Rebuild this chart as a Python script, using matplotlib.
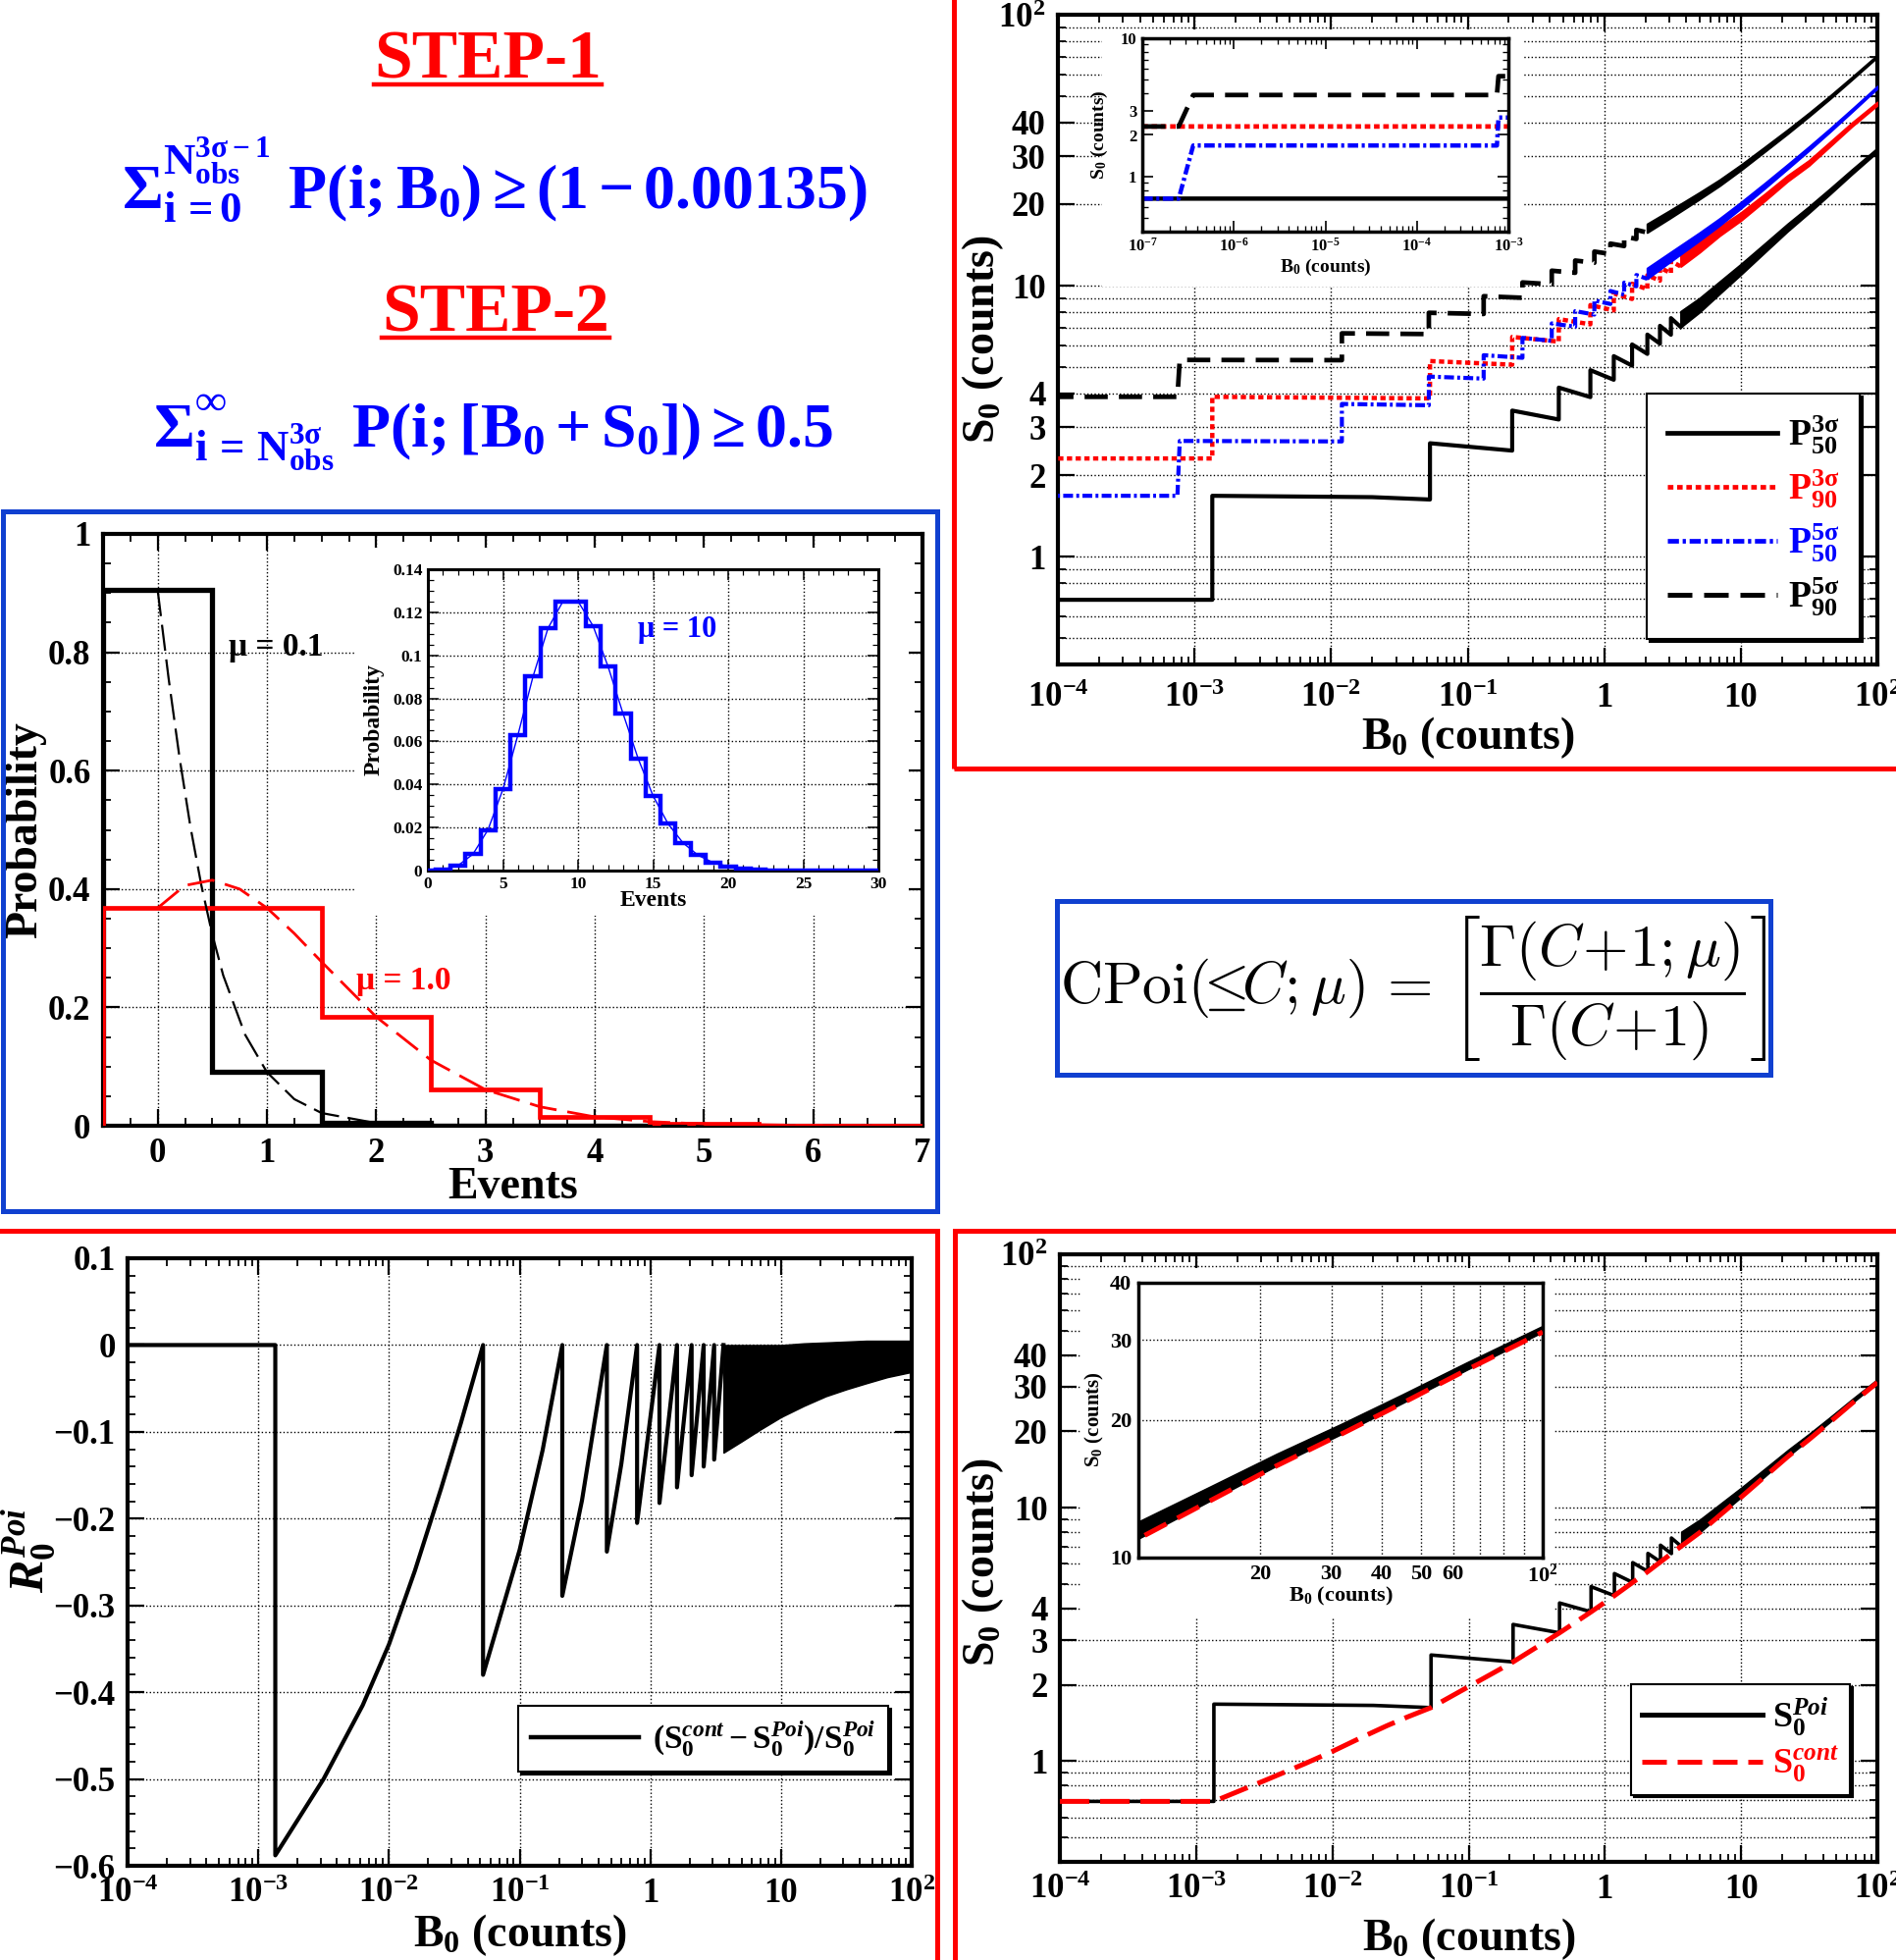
import matplotlib
matplotlib.use('Agg')
import matplotlib.pyplot as plt
from matplotlib.patches import Rectangle
from matplotlib.lines import Line2D
from matplotlib.ticker import FixedLocator, FixedFormatter, NullFormatter, MultipleLocator

plt.rcParams.update({
    'font.family': ['Liberation Serif', 'DejaVu Serif'],
    'font.weight': 'bold',
    'axes.labelweight': 'bold',
    'mathtext.fontset': 'custom',
    'mathtext.rm': 'Liberation Serif:bold',
    'mathtext.it': 'Liberation Serif:italic:bold',
    'mathtext.bf': 'Liberation Serif:bold',
    'mathtext.default': 'rm',
})

RED = '#ff0000'
BLUE = '#0000ff'
FRAME_BLUE = '#1040d0'

# ======================= DATA =======================
# ---- top-left text ----
step1_text = 'STEP-1'
step2_text = 'STEP-2'
formula1 = r'$\Sigma_{i\,=0}^{N_{obs}^{3\sigma-1}}\ P(i;B_0)\geq(1-0.00135)$'
formula2 = r'$\Sigma_{i\,=\,N_{obs}^{3\sigma}}^{\infty}\ P(i;[B_0+S_0])\geq0.5$'
cpoi_formula = (r'$\mathrm{CPoi}(\!\!\leq\!\!\mathit{C};\mathit{\mu})\,=\,'
                r'\left[\dfrac{\Gamma(\mathit{C}\!+\!1;\mathit{\mu})}{\Gamma(\mathit{C}\!+\!1)}\right]$')

# ---- middle-left: Poisson probabilities ----
events_mu01 = [0, 1, 2, 3, 4]
prob_mu01 = [0.905, 0.0905, 0.0045, 0.00015, 0.0]
events_mu1 = [0, 1, 2, 3, 4, 5, 6, 7]
prob_mu1 = [0.368, 0.368, 0.184, 0.061, 0.015, 0.003, 0.0005, 0.0001]
cont_x_mu01 = [0, 0.1, 0.2, 0.3, 0.4, 0.5, 0.6, 0.8, 1.0, 1.25, 1.5, 2.0, 2.5, 3.0, 4.0, 5.0]
cont_y_mu01 = [0.905, 0.756, 0.622, 0.505, 0.406, 0.323, 0.254, 0.154, 0.0905, 0.045,
               0.0215, 0.0045, 0.0008, 0.00015, 0.0, 0.0]
cont_x_mu1 = [0, 0.25, 0.5, 0.75, 1.0, 1.25, 1.5, 2.0, 2.5, 3.0, 3.5, 4.0, 4.5, 5.0, 6.0, 7.0]
cont_y_mu1 = [0.368, 0.406, 0.415, 0.400, 0.368, 0.325, 0.277, 0.184, 0.111, 0.061,
              0.032, 0.015, 0.007, 0.003, 0.0005, 0.0001]
events_mu10 = list(range(31))
prob_mu10 = [0.00005, 0.00045, 0.0023, 0.0076, 0.0189, 0.0378, 0.0631, 0.0901, 0.1126,
             0.1251, 0.1251, 0.1137, 0.0948, 0.0729, 0.0521, 0.0347, 0.0217, 0.0128,
             0.0071, 0.0037, 0.0019, 0.0009, 0.0004, 0.0002, 0.0001, 0.0, 0.0, 0.0,
             0.0, 0.0, 0.0]
prob_ticks = [0, 0.2, 0.4, 0.6, 0.8, 1.0]
prob_labels = ['0', '0.2', '0.4', '0.6', '0.8', '1']
prob10_ticks = [0, 0.02, 0.04, 0.06, 0.08, 0.10, 0.12, 0.14]
prob10_labels = ['0', '0.02', '0.04', '0.06', '0.08', '0.1', '0.12', '0.14']
events_ticks = [0, 1, 2, 3, 4, 5, 6, 7]
events10_ticks = [0, 5, 10, 15, 20, 25, 30]

# ---- S0 vs B0 curves (vertices) ----
# P50^3sigma (black solid) = S0^Poi
p50_3s_B = [1e-7, 1.35e-3, 1.35e-3, 0.02, 0.053, 0.053, 0.212, 0.212, 0.465, 0.465, 0.792,
            0.792, 1.175, 1.175, 1.60, 1.60, 2.07, 2.07, 2.56, 2.56, 3.08, 3.08, 3.63]
p50_3s_S = [0.693, 0.693, 1.677, 1.658, 1.625, 2.621, 2.462, 3.460, 3.207, 4.206, 3.879,
            4.878, 4.495, 5.495, 5.070, 6.070, 5.600, 6.600, 6.110, 7.110, 6.590, 7.590, 7.040]
p50_3s_band_B = [3.63, 5, 7, 10, 15, 22, 31.6, 45, 65, 100]
p50_3s_band_lo = [7.04, 8.0, 9.35, 11.0, 13.3, 15.9, 18.6, 21.8, 25.8, 31.2]
p50_3s_band_hi = [8.04, 9.0, 10.35, 12.0, 14.3, 16.9, 19.6, 22.8, 26.8, 32.2]

# P90^3sigma (red dotted)
p90_3s_B = [1e-7, 1.35e-3, 1.35e-3, 0.053, 0.053, 0.212, 0.212, 0.465, 0.465, 0.792, 0.792,
            1.175, 1.175, 1.60, 1.60, 2.07, 2.07, 2.56, 2.56, 3.08, 3.08, 3.63]
p90_3s_S = [2.303, 2.303, 3.889, 3.837, 5.269, 5.110, 6.469, 6.216, 7.529, 7.202, 8.483,
            8.100, 9.357, 8.932, 10.171, 9.701, 10.925, 10.435, 11.646, 11.126, 12.327, 11.777]
p90_3s_band_B = [3.63, 5, 7, 10, 15, 22, 31.6, 45, 65, 100]
p90_3s_band_lo = [11.78, 13.3, 15.3, 17.4, 20.6, 24.3, 27.8, 32.7, 38.7, 46.4]
p90_3s_band_hi = [12.97, 14.5, 16.5, 18.6, 21.8, 25.5, 29.0, 33.9, 39.9, 47.6]

# P50^5sigma (blue dash-dot)
p50_5s_B = [1e-7, 2.5e-7, 3.6e-7, 7.5e-4, 7.8e-4, 0.012, 0.012, 0.052, 0.052, 0.131, 0.131,
            0.252, 0.252, 0.413, 0.413, 0.613, 0.613, 0.847, 0.847, 1.11, 1.11, 1.40, 1.40,
            1.72, 1.72, 2.06]
p50_5s_S = [0.693, 0.693, 1.678, 1.677, 2.673, 2.662, 3.660, 3.620, 4.619, 4.540, 5.539,
            5.418, 6.418, 6.257, 7.256, 7.056, 8.056, 7.822, 8.822, 8.559, 9.558, 9.268,
            10.268, 9.948, 10.949, 10.609]
p50_5s_band_B = [2.06, 3, 5, 7, 10, 15, 22, 31.6, 45, 65, 100]
p50_5s_band_lo = [10.61, 12.2, 14.7, 16.7, 19.3, 22.9, 27.0, 31.6, 37.0, 43.8, 53.5]
p50_5s_band_hi = [11.61, 13.2, 15.7, 17.7, 20.3, 23.9, 28.0, 32.6, 38.0, 44.8, 54.5]

# P90^5sigma (black dashed)
p90_5s_B = [1e-7, 2.5e-7, 3.6e-7, 7.5e-4, 7.8e-4, 0.012, 0.012, 0.052, 0.052, 0.131, 0.131,
            0.252, 0.252, 0.413, 0.413, 0.613, 0.613, 0.847, 0.847, 1.11, 1.11, 1.40, 1.40,
            1.72, 1.72, 2.06]
p90_5s_S = [2.303, 2.303, 3.889, 3.889, 5.321, 5.310, 6.669, 6.629, 7.942, 7.863, 9.144,
            9.023, 10.280, 10.119, 11.358, 11.158, 12.382, 12.148, 13.359, 13.096, 14.297,
            14.007, 15.198, 14.878, 16.060, 15.720]
p90_5s_band_B = [2.06, 3, 5, 7, 10, 15, 22, 31.6, 45, 65, 100]
p90_5s_band_lo = [15.72, 17.7, 20.9, 23.4, 26.7, 31.3, 36.4, 42.2, 49.0, 57.6, 69.8]
p90_5s_band_hi = [16.90, 18.9, 22.1, 24.6, 27.9, 32.5, 37.6, 43.4, 50.2, 58.8, 71.0]

# S0^cont (red dashed, bottom-right)
scont_B = [1e-4, 1.35e-3, 3.16e-3, 6.3e-3, 0.01, 0.0158, 0.0251, 0.0355, 0.053, 0.1, 0.15,
           0.212, 0.3, 0.465, 0.6, 0.792, 1.175, 1.60, 2.07, 2.56, 3.08, 3.63, 5, 7, 10, 15,
           22, 31.6, 45, 65, 100]
scont_S = [0.693, 0.693, 0.836, 0.977, 1.091, 1.228, 1.378, 1.492, 1.625, 1.966, 2.219,
           2.462, 2.767, 3.207, 3.512, 3.879, 4.495, 5.07, 5.60, 6.11, 6.59, 7.04, 8.0, 9.35,
           11.0, 13.3, 15.9, 18.6, 21.8, 25.8, 31.2]

# R0^Poi (bottom-left)
r0_B = [1e-4, 1.35e-3, 1.35e-3, 3.16e-3, 6.3e-3, 0.01, 0.0158, 0.0251, 0.0355, 0.0525,
        0.0525, 0.1, 0.15, 0.212, 0.212, 0.3, 0.465, 0.465, 0.6, 0.792, 0.792, 1.175,
        1.175, 1.60, 1.60, 2.07, 2.07, 2.56, 2.56, 3.08, 3.08, 3.63]
r0_R = [0.0, 0.0, -0.588, -0.50, -0.415, -0.345, -0.26, -0.165, -0.09, 0.0,
        -0.380, -0.236, -0.121, 0.0, -0.289, -0.179, 0.0, -0.238, -0.137, 0.0, -0.205, 0.0,
        -0.182, 0.0, -0.164, 0.0, -0.150, 0.0, -0.140, 0.0, -0.132, 0.0]
r0_band_B = [3.63, 5, 7, 10, 15, 22, 31.6, 45, 65, 100]
r0_band_lo = [-0.124, -0.111, -0.097, -0.083, -0.070, -0.059, -0.051, -0.044, -0.037, -0.031]
r0_band_hi = [0.0, 0.0, 0.0, 0.0, 0.002, 0.003, 0.004, 0.005, 0.005, 0.005]

# ---- tick labels ----
dec_ticks = [1e-4, 1e-3, 1e-2, 1e-1, 1, 10, 100]
dec_labels = [r'$10^{-4}$', r'$10^{-3}$', r'$10^{-2}$', r'$10^{-1}$', '1', '10', r'$10^{2}$']
s_ticks = [1, 2, 3, 4, 10, 20, 30, 40, 100]
s_labels = ['1', '2', '3', '4', '10', '20', '30', '40', r'$10^{2}$']
s_minor = [0.5, 0.6, 0.7, 0.8, 0.9, 5, 6, 7, 8, 9, 50, 60, 70, 80, 90]
in_dec_ticks = [1e-7, 1e-6, 1e-5, 1e-4, 1e-3]
in_dec_labels = [r'$10^{-7}$', r'$10^{-6}$', r'$10^{-5}$', r'$10^{-4}$', r'$10^{-3}$']
in_s_ticks = [1, 2, 3, 10]
in_s_labels = ['1', '2', '3', '10']
r0_ticks = [-0.6, -0.5, -0.4, -0.3, -0.2, -0.1, 0.0, 0.1]
r0_labels = ['\u22120.6', '\u22120.5', '\u22120.4', '\u22120.3', '\u22120.2', '\u22120.1', '0', '0.1']
zoom_x_ticks = [20, 30, 40, 50, 60, 100]
zoom_x_labels = ['20', '30', '40', '50', '60', r'$10^{2}$']
zoom_x_minor = [70, 80, 90]
zoom_y_ticks = [10, 20, 30, 40]
zoom_y_labels = ['10', '20', '30', '40']

legend_top_labels = [r'$P^{3\sigma}_{50}$', r'$P^{3\sigma}_{90}$', r'$P^{5\sigma}_{50}$', r'$P^{5\sigma}_{90}$']
legend_top_colors = ['k', RED, BLUE, 'k']
legend_r0_label = r'$(S_0^{\mathit{cont}}-S_0^{\mathit{Poi}})/S_0^{\mathit{Poi}}$'
legend_br_labels = [r'$S_0^{\mathit{Poi}}$', r'$S_0^{\mathit{cont}}$']
legend_br_colors = ['k', RED]

# ======================= FIGURE =======================
W, H = 1932, 1997
fig = plt.figure(figsize=(W / 100, H / 100), dpi=100)


def frac_rect(l, t, r, b):
    return [l / W, 1 - b / H, (r - l) / W, (b - t) / H]


def frame(l, t, r, b, color, lw=3.6):
    fig.add_artist(Rectangle((l / W, 1 - b / H), (r - l) / W, (b - t) / H,
                             transform=fig.transFigure, fill=False,
                             edgecolor=color, linewidth=lw, zorder=20))


def cover(ax, l, t, r, b):
    ax.add_patch(Rectangle((l / W, 1 - b / H), (r - l) / W, (b - t) / H,
                           transform=fig.transFigure, facecolor='white',
                           edgecolor='none', zorder=1.5))


def style(ax, size, spine=3.0, major=12, minor=6, width=1.6, pad=9, ticks=True):
    ax.tick_params(which='both', direction='in', top=True, right=True, labelsize=size)
    ax.tick_params(which='major', length=major if ticks else 0, width=width, pad=pad)
    ax.tick_params(which='minor', length=minor if ticks else 0, width=width * 0.8)
    for s in ax.spines.values():
        s.set_linewidth(spine)
    ax.set_axisbelow(True)


def place_labels(ax, box, xl_top, yl_right, yl_center=None):
    l, t, r, b = box
    ax.xaxis.set_label_coords(0.5, (b - xl_top) / (b - t))
    yc = 0.5 if yl_center is None else (b - yl_center) / (b - t)
    ax.yaxis.set_label_coords((yl_right - l) / (r - l), yc)


def log_s_axes(ax, xpad):
    ax.set_xscale('log')
    ax.set_yscale('log')
    ax.set_xlim(1e-4, 1e2)
    ax.set_ylim(0.4, 100)
    ax.xaxis.set_major_locator(FixedLocator(dec_ticks))
    ax.xaxis.set_major_formatter(FixedFormatter(dec_labels))
    ax.xaxis.set_minor_locator(FixedLocator([m * 10.0 ** e for e in range(-4, 2) for m in range(2, 10)]))
    ax.xaxis.set_minor_formatter(NullFormatter())
    ax.yaxis.set_major_locator(FixedLocator(s_ticks))
    ax.yaxis.set_major_formatter(FixedFormatter(s_labels))
    ax.yaxis.set_minor_locator(FixedLocator(s_minor))
    ax.yaxis.set_minor_formatter(NullFormatter())
    style(ax, 25)
    ax.tick_params(axis='x', which='major', pad=xpad)
    ax.grid(True, which='major', axis='x', ls=':', lw=1.0, color='k')
    ax.grid(True, which='both', axis='y', ls=':', lw=1.0, color='k')
    ax.set_xlabel(r'$B_0$ (counts)', fontsize=33)
    ax.set_ylabel(r'$S_0$ (counts)', fontsize=33)


LS_RED_DOT = (0, (1.2, 0.8))
LS_BLUE_DD = (0, (2.4, 0.8, 0.7, 0.8))
LS_BLACK_DASH = (0, (5, 2.4))

# ---------- frames ----------
frame(972, -10, 1945, 783, RED)
frame(3, 521, 955, 1234, FRAME_BLUE)
frame(-10, 1254, 955, 2010, RED)
frame(973, 1254, 1945, 2010, RED)
frame(1077, 918, 1804, 1095, FRAME_BLUE)

# ---------- top-left text ----------
t1 = fig.text(497 / W, 1 - 80 / H, step1_text, color=RED, fontsize=50, ha='center', va='baseline')
t2 = fig.text(505 / W, 1 - 337 / H, step2_text, color=RED, fontsize=50, ha='center', va='baseline')
fig.text(504 / W, 1 - 212 / H, formula1, color=BLUE, fontsize=46, ha='center', va='baseline')
fig.text(503 / W, 1 - 455 / H, formula2, color=BLUE, fontsize=46, ha='center', va='baseline')
renderer = fig.canvas.get_renderer()
for t, uy in ((t1, 86), (t2, 344)):
    bb = t.get_window_extent(renderer)
    fig.add_artist(Line2D([bb.x0 / W, bb.x1 / W], [1 - uy / H, 1 - uy / H], color=RED, lw=3.2,
                          transform=fig.transFigure))

# ---------- CPoi formula ----------
fig.text((1077 + 1804) / 2 / W, 1 - 1007 / H, cpoi_formula, fontsize=43, ha='center', va='center',
         color='k', math_fontfamily='cm', fontweight='normal')

# ---------- top-right main ----------
box1 = (1078, 15, 1913, 677)
ax1 = fig.add_axes(frac_rect(*box1))
log_s_axes(ax1, 13)
place_labels(ax1, box1, 728, 1025)
ax1.plot(p50_3s_B, p50_3s_S, color='k', lw=3.0, zorder=3)
ax1.fill_between(p50_3s_band_B, p50_3s_band_lo, p50_3s_band_hi, color='k', lw=1.5, zorder=3)
ax1.plot(p90_3s_B, p90_3s_S, color=RED, lw=3.2, ls=LS_RED_DOT, zorder=3)
ax1.fill_between(p90_3s_band_B, p90_3s_band_lo, p90_3s_band_hi, color=RED, lw=1.5, zorder=3)
ax1.plot(p50_5s_B, p50_5s_S, color=BLUE, lw=3.0, ls=LS_BLUE_DD, zorder=3)
ax1.fill_between(p50_5s_band_B, p50_5s_band_lo, p50_5s_band_hi, color=BLUE, lw=1.5, zorder=3)
ax1.plot(p90_5s_B, p90_5s_S, color='k', lw=3.4, ls=LS_BLACK_DASH, zorder=3)
ax1.fill_between(p90_5s_band_B, p90_5s_band_lo, p90_5s_band_hi, color='k', lw=1.5, zorder=3)
cover(ax1, 1123, 30, 1553, 292)
handles = [Line2D([], [], color='k', lw=3.4),
           Line2D([], [], color=RED, lw=3.4, ls=LS_RED_DOT),
           Line2D([], [], color=BLUE, lw=3.4, ls=LS_BLUE_DD),
           Line2D([], [], color='k', lw=3.6, ls=LS_BLACK_DASH)]
leg = ax1.legend(handles, legend_top_labels, loc='upper left',
                 bbox_to_anchor=(1678 / W, 1 - 401 / H), bbox_transform=fig.transFigure,
                 fontsize=27, fancybox=False, edgecolor='k', framealpha=1,
                 shadow={'color': 'k', 'alpha': 1}, handlelength=3.0, handletextpad=0.3,
                 labelspacing=0.3, borderpad=0.55, borderaxespad=0)
leg.get_frame().set_linewidth(1.5)
leg.set_zorder(6)
for t, c in zip(leg.get_texts(), legend_top_colors):
    t.set_color(c)

# ---------- top-right inset ----------
box1i = (1164, 39, 1537, 236)
ax1i = fig.add_axes(frac_rect(*box1i))
ax1i.set_xscale('log')
ax1i.set_yscale('log')
ax1i.set_xlim(1e-7, 1e-3)
ax1i.set_ylim(0.4, 10)
ax1i.plot(p50_3s_B, p50_3s_S, color='k', lw=3.2)
ax1i.plot(p90_3s_B, p90_3s_S, color=RED, lw=3.4, ls=LS_RED_DOT)
ax1i.plot(p50_5s_B, p50_5s_S, color=BLUE, lw=3.2, ls=LS_BLUE_DD)
ax1i.plot(p90_5s_B, p90_5s_S, color='k', lw=3.4, ls=LS_BLACK_DASH)
ax1i.xaxis.set_major_locator(FixedLocator(in_dec_ticks))
ax1i.xaxis.set_major_formatter(FixedFormatter(in_dec_labels))
ax1i.xaxis.set_minor_locator(FixedLocator([m * 10.0 ** e for e in range(-7, -3) for m in range(2, 10)]))
ax1i.xaxis.set_minor_formatter(NullFormatter())
ax1i.yaxis.set_major_locator(FixedLocator(in_s_ticks))
ax1i.yaxis.set_major_formatter(FixedFormatter(in_s_labels))
ax1i.yaxis.set_minor_locator(FixedLocator([0.5, 0.6, 0.7, 0.8, 0.9, 4, 5, 6, 7, 8, 9]))
ax1i.yaxis.set_minor_formatter(NullFormatter())
style(ax1i, 12, spine=2.5, major=8, minor=4, width=1.2, pad=4)
ax1i.set_xlabel(r'$B_0$ (counts)', fontsize=14)
ax1i.set_ylabel(r'$S_0$ (counts)', fontsize=14)
place_labels(ax1i, box1i, 262, 1131)

# ---------- middle-left main ----------
boxp = (105, 544, 940, 1147)
axp = fig.add_axes(frac_rect(*boxp))
axp.set_xlim(-0.5, 7)
axp.set_ylim(0, 1)
axp.stairs(prob_mu01, [e - 0.5 for e in events_mu01] + [events_mu01[-1] + 0.5],
           baseline=0, color='k', lw=3.8, zorder=3)
axp.stairs(prob_mu1, [e - 0.5 for e in events_mu1] + [events_mu1[-1] + 0.5],
           baseline=0, color=RED, lw=3.4, zorder=3)
axp.plot(cont_x_mu01, cont_y_mu01, color='k', lw=1.6, ls=(0, (12, 4)), zorder=3)
axp.plot(cont_x_mu1, cont_y_mu1, color=RED, lw=2.0, ls=(0, (10, 4)), zorder=3)
axp.xaxis.set_major_locator(FixedLocator(events_ticks))
axp.xaxis.set_minor_locator(MultipleLocator(0.25))
axp.yaxis.set_major_locator(FixedLocator(prob_ticks))
axp.yaxis.set_major_formatter(FixedFormatter(prob_labels))
axp.yaxis.set_minor_locator(MultipleLocator(0.05))
style(axp, 25)
axp.grid(True, which='major', ls=':', lw=1.0, color='k')
axp.set_xlabel('Events', fontsize=33)
axp.set_ylabel('Probability', fontsize=33)
place_labels(axp, boxp, 1189, 47)
axp.text(0.65, 0.808, '\u03bc = 0.1', fontsize=24, va='center', ha='left', color='k', zorder=4)
axp.text(1.82, 0.244, '\u03bc = 1.0', fontsize=24, va='center', ha='left', color=RED, zorder=4)
cover(axp, 361, 558, 926, 933)

# ---------- middle-left inset ----------
boxpi = (436, 580, 895, 887)
axpi = fig.add_axes(frac_rect(*boxpi))
axpi.set_xlim(0, 30)
axpi.set_ylim(0, 0.14)
axpi.stairs(prob_mu10, [e - 0.5 for e in events_mu10] + [events_mu10[-1] + 0.5],
            baseline=0, color=BLUE, lw=3.2, zorder=3)
axpi.plot(events_mu10, prob_mu10, color=BLUE, lw=1.0, zorder=3)
axpi.xaxis.set_major_locator(FixedLocator(events10_ticks))
axpi.xaxis.set_minor_locator(MultipleLocator(1))
axpi.yaxis.set_major_locator(FixedLocator(prob10_ticks))
axpi.yaxis.set_major_formatter(FixedFormatter(prob10_labels))
axpi.yaxis.set_minor_locator(MultipleLocator(0.005))
style(axpi, 12.5, spine=2.2, major=8, minor=4, width=1.1, pad=4)
axpi.grid(True, which='major', ls=':', lw=1.0, color='k')
axpi.set_xlabel('Events', fontsize=17)
axpi.set_ylabel('Probability', fontsize=17)
place_labels(axpi, boxpi, 907, 392)
axpi.text(14.0, 0.112, '\u03bc = 10', fontsize=22, va='center', ha='left', color=BLUE)

# ---------- bottom-left R0 ----------
boxr = (130, 1282, 929, 1901)
axr = fig.add_axes(frac_rect(*boxr))
axr.set_xscale('log')
axr.set_xlim(1e-4, 1e2)
axr.set_ylim(-0.6, 0.1)
axr.plot(r0_B, r0_R, color='k', lw=3.0, zorder=3)
axr.fill_between(r0_band_B, r0_band_lo, r0_band_hi, color='k', lw=1.0, zorder=3)
axr.xaxis.set_major_locator(FixedLocator(dec_ticks))
axr.xaxis.set_major_formatter(FixedFormatter(dec_labels))
axr.xaxis.set_minor_locator(FixedLocator([m * 10.0 ** e for e in range(-4, 2) for m in range(2, 10)]))
axr.xaxis.set_minor_formatter(NullFormatter())
axr.yaxis.set_major_locator(FixedLocator(r0_ticks))
axr.yaxis.set_major_formatter(FixedFormatter(r0_labels))
axr.yaxis.set_minor_locator(MultipleLocator(0.02))
style(axr, 25)
axr.grid(True, which='major', ls=':', lw=1.0, color='k')
axr.set_xlabel(r'$B_0$ (counts)', fontsize=33)
axr.set_ylabel(r'$\mathit{R}_0^{\mathit{Poi}}$', fontsize=36)
place_labels(axr, boxr, 1948, 58, 1579)
legr = axr.legend([Line2D([], [], color='k', lw=3.2)], [legend_r0_label], loc='upper left',
                  bbox_to_anchor=(528 / W, 1 - 1738 / H), bbox_transform=fig.transFigure,
                  fontsize=24, fancybox=False, edgecolor='k', framealpha=1,
                  shadow={'color': 'k', 'alpha': 1}, handlelength=3.3, handletextpad=0.4,
                  borderpad=0.4, borderaxespad=0)
legr.get_frame().set_linewidth(1.5)

# ---------- bottom-right main ----------
box3 = (1080, 1278, 1913, 1897)
ax3 = fig.add_axes(frac_rect(*box3))
log_s_axes(ax3, 9)
place_labels(ax3, box3, 1952, 1025, 1592)
ax3.plot(p50_3s_B, p50_3s_S, color='k', lw=2.6, zorder=3)
ax3.fill_between(p50_3s_band_B, p50_3s_band_lo, p50_3s_band_hi, color='k', lw=1.0, zorder=3)
ax3.plot(scont_B, scont_S, color=RED, lw=3.6, ls=(0, (6, 2.2)), zorder=4)
cover(ax3, 1102, 1292, 1583, 1648)
legb = ax3.legend([Line2D([], [], color='k', lw=3.6), Line2D([], [], color=RED, lw=3.6, ls=(0, (5, 2.2)))],
                  legend_br_labels, loc='upper left',
                  bbox_to_anchor=(1662 / W, 1 - 1716 / H), bbox_transform=fig.transFigure,
                  fontsize=26, fancybox=False, edgecolor='k', framealpha=1,
                  shadow={'color': 'k', 'alpha': 1}, handlelength=3.4, handletextpad=0.3,
                  labelspacing=0.2, borderpad=0.3, borderaxespad=0)
legb.get_frame().set_linewidth(1.5)
legb.set_zorder(6)
for t, c in zip(legb.get_texts(), legend_br_colors):
    t.set_color(c)

# ---------- bottom-right inset ----------
box3i = (1160, 1307, 1572, 1587)
ax3i = fig.add_axes(frac_rect(*box3i))
ax3i.set_xscale('log')
ax3i.set_yscale('log')
ax3i.set_xlim(10, 100)
ax3i.set_ylim(10, 40)
ax3i.fill_between(p50_3s_band_B, p50_3s_band_lo, p50_3s_band_hi, color='k', lw=1.0, zorder=3)
ax3i.plot(scont_B, scont_S, color=RED, lw=3.6, ls=(0, (5, 2.5)), zorder=4)
ax3i.xaxis.set_major_locator(FixedLocator(zoom_x_ticks))
ax3i.xaxis.set_major_formatter(FixedFormatter(zoom_x_labels))
ax3i.xaxis.set_minor_locator(FixedLocator(zoom_x_minor))
ax3i.xaxis.set_minor_formatter(NullFormatter())
ax3i.yaxis.set_major_locator(FixedLocator(zoom_y_ticks))
ax3i.yaxis.set_major_formatter(FixedFormatter(zoom_y_labels))
ax3i.yaxis.set_minor_locator(FixedLocator([]))
style(ax3i, 16, spine=2.5, width=1.0, pad=5, ticks=False)
ax3i.grid(True, which='both', ls=':', lw=1.0, color='k')
ax3i.set_xlabel(r'$B_0$ (counts)', fontsize=16)
ax3i.set_ylabel(r'$S_0$ (counts)', fontsize=15)
place_labels(ax3i, box3i, 1615, 1127, 1446)

fig.savefig('out.png', dpi=100)
